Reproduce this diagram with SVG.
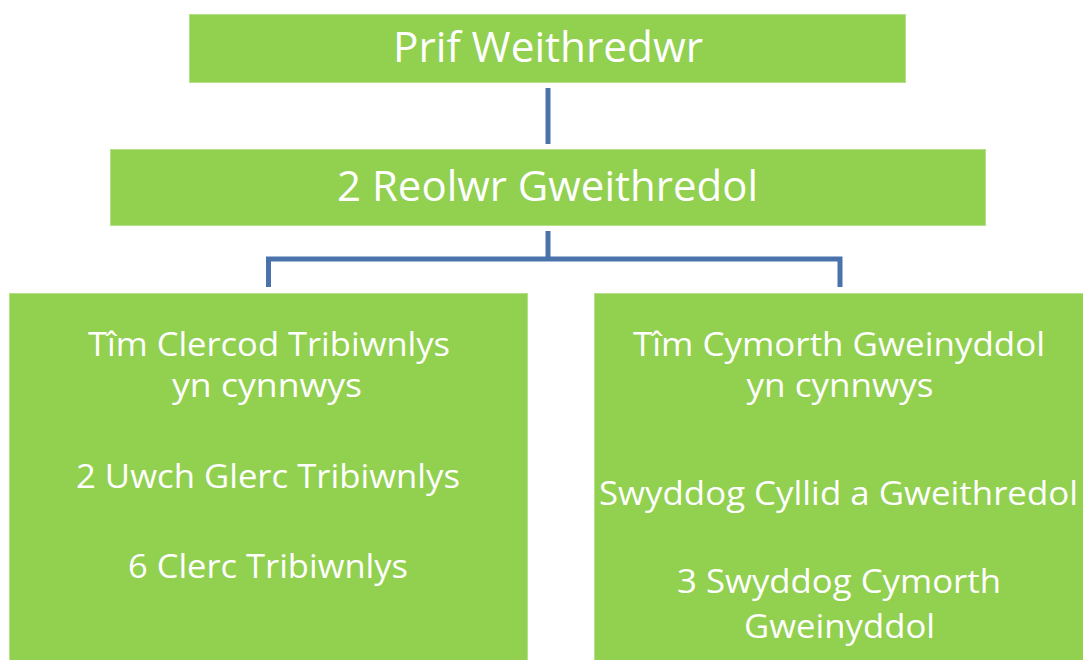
<svg xmlns="http://www.w3.org/2000/svg" width="1083" height="660" viewBox="0 0 1083 660">
<style>
.box{fill:#92D050;stroke:#B4E08A;stroke-width:1}
.t{font-family:"Open Sans","Noto Sans","Liberation Sans",sans-serif;fill:#FFFFFF;text-anchor:middle}
.big{font-size:42px}
.mid{font-size:32px}
.conn{fill:none;stroke:#4A73AC;stroke-width:5;stroke-linejoin:miter;stroke-linecap:butt}
</style>
<rect width="1083" height="660" fill="#FFFFFF"/>
<g id="connectors">
<path class="conn" d="M548,88 V144"/>
<path class="conn" d="M548,231 V259"/>
<path class="conn" d="M268.5,287 V259 H840 V287"/>
</g>
<g id="node-prif">
<rect class="box" x="189.5" y="14.5" width="716" height="68"/>
<text class="t big" x="548" y="62" textLength="310" lengthAdjust="spacingAndGlyphs">Prif Weithredwr</text>
</g>
<g id="node-reolwr">
<rect class="box" x="110.5" y="149.5" width="875" height="76"/>
<text class="t big" x="547.5" y="201" textLength="421" lengthAdjust="spacingAndGlyphs">2 Reolwr Gweithredol</text>
</g>
<g id="node-clercod">
<rect class="box" x="9.5" y="293.5" width="518" height="370"/>
<text class="t mid" x="269" y="356" textLength="362" lengthAdjust="spacingAndGlyphs">Tîm Clercod Tribiwnlys</text>
<text class="t mid" x="267" y="397" textLength="190" lengthAdjust="spacingAndGlyphs">yn cynnwys</text>
<text class="t mid" x="268" y="488" textLength="384" lengthAdjust="spacingAndGlyphs">2 Uwch Glerc Tribiwnlys</text>
<text class="t mid" x="268" y="578" textLength="280" lengthAdjust="spacingAndGlyphs">6 Clerc Tribiwnlys</text>
</g>
<g id="node-cymorth">
<rect class="box" x="594.5" y="293.5" width="492" height="370"/>
<text class="t mid" x="839" y="356" textLength="412" lengthAdjust="spacingAndGlyphs">Tîm Cymorth Gweinyddol</text>
<text class="t mid" x="840" y="397" textLength="187" lengthAdjust="spacingAndGlyphs">yn cynnwys</text>
<text class="t mid" x="838.5" y="505" textLength="479" lengthAdjust="spacingAndGlyphs">Swyddog Cyllid a Gweithredol</text>
<text class="t mid" x="839" y="593" textLength="324" lengthAdjust="spacingAndGlyphs">3 Swyddog Cymorth</text>
<text class="t mid" x="839.5" y="638" textLength="191" lengthAdjust="spacingAndGlyphs">Gweinyddol</text>
</g>
</svg>
